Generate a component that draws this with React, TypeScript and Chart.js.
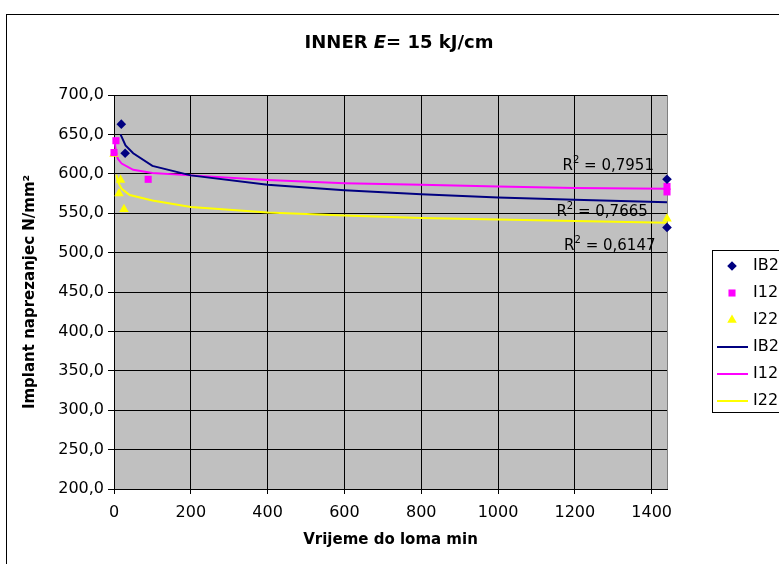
import React, { useEffect, useRef } from "react";
import { Chart, registerables } from "chart.js";

Chart.register(...registerables);

const FONT = "'DejaVu Sans', 'Liberation Sans', Arial, sans-serif";

// Measured points
const ib2X = [19, 29, 1440, 1440];
const ib2Y = [663, 626, 593, 532];
const i12X = [0, 5, 89, 1440, 1440];
const i12Y = [627, 642, 593, 584, 577];
const i22X = [0, 13, 17, 26, 1440];
const i22Y = [625, 575, 592, 555, 543];

// Trend lines
const ib2TrendX = [17, 30, 50, 100, 200, 400, 600, 800, 1000, 1200, 1440];
const ib2TrendY = [650, 636, 626, 610, 598, 586, 579, 574, 570, 567, 564];
const i12TrendX = [2, 5, 10, 20, 50, 100, 200, 400, 600, 800, 1000, 1200, 1440];
const i12TrendY = [640, 628, 619, 613, 605, 601, 598, 592, 588, 586, 584, 582, 581];
const i22TrendX = [6, 10, 20, 41, 100, 200, 400, 600, 800, 1000, 1200, 1440];
const i22TrendY = [599, 590, 581, 573, 566, 558, 551, 547, 544, 542, 540, 538];

const xTickValues = [0, 200, 400, 600, 800, 1000, 1200, 1400];
const yTickValues = [200, 250, 300, 350, 400, 450, 500, 550, 600, 650, 700];

const seriesNames = ["IB2", "I12", "I22"];
const seriesColors = ["#000080", "#FF00FF", "#FFFF00"];
const pointStyles = ["rectRot", "rect", "triangle"];
const pointRadii = [4.8, 5, 5.5];

// R² labels: value, anchor (right edge) in data units
const r2Values = ["0,7951", "0,7665", "0,6147"];
const r2X = [1406, 1390, 1410];
const r2Y = [610, 551, 508];

const titleParts = ["INNER ", "E", "= 15 kJ/cm"];
const xTitle = "Vrijeme do loma min";
const yTitle = "Implant naprezanjec N/mm²";

const zip = (xs: number[], ys: number[]) => xs.map((x, i) => ({ x, y: ys[i] }));

function drawMarker(ctx: CanvasRenderingContext2D, style: string, x: number, y: number, r: number) {
  ctx.beginPath();
  if (style === "rectRot") {
    ctx.moveTo(x, y - r);
    ctx.lineTo(x + r, y);
    ctx.lineTo(x, y + r);
    ctx.lineTo(x - r, y);
  } else if (style === "rect") {
    const s = r * Math.SQRT1_2;
    ctx.rect(x - s, y - s, 2 * s, 2 * s);
  } else {
    const h = r * 1.5;
    const w = r * Math.sqrt(3) / 2;
    ctx.moveTo(x, y - r);
    ctx.lineTo(x + w, y - r + h);
    ctx.lineTo(x - w, y - r + h);
  }
  ctx.closePath();
  ctx.fill();
}

const decorPlugin = {
  id: "decor",
  beforeDraw(chart: any) {
    const { ctx, chartArea: a } = chart;
    ctx.save();
    ctx.fillStyle = "#ffffff";
    ctx.fillRect(0, 0, chart.width, chart.height);
    ctx.fillStyle = "#C0C0C0";
    ctx.fillRect(a.left, a.top, a.right - a.left, a.bottom - a.top);
    ctx.strokeStyle = "#808080";
    ctx.lineWidth = 1;
    ctx.strokeRect(a.left + 0.5, a.top + 0.5, a.right - a.left, a.bottom - a.top);
    ctx.restore();
  },
  afterDraw(chart: any) {
    const { ctx } = chart;
    ctx.save();
    // outer frame
    ctx.strokeStyle = "#000";
    ctx.lineWidth = 1;
    ctx.strokeRect(6.5, 14.5, 900, 700);

    // title
    ctx.fillStyle = "#000";
    ctx.textBaseline = "alphabetic";
    const fonts = [`bold 18px ${FONT}`, `italic bold 18px ${FONT}`, `bold 18px ${FONT}`];
    let total = 0;
    const widths = titleParts.map((t, i) => {
      ctx.font = fonts[i];
      const w = ctx.measureText(t).width;
      total += w;
      return w;
    });
    let tx = 399 - total / 2;
    titleParts.forEach((t, i) => {
      ctx.font = fonts[i];
      ctx.fillText(t, tx, 48);
      tx += widths[i];
    });

    // R² labels
    const xs = chart.scales.x;
    const ys = chart.scales.y;
    r2Values.forEach((v, i) => {
      const right = xs.getPixelForValue(r2X[i]);
      const cy = ys.getPixelForValue(r2Y[i]);
      ctx.font = `15px ${FONT}`;
      const rest = " = " + v;
      const wRest = ctx.measureText(rest).width;
      const wR = ctx.measureText("R").width;
      ctx.font = `10px ${FONT}`;
      const w2 = ctx.measureText("2").width;
      const x0 = right - wRest - w2 - wR;
      ctx.textBaseline = "middle";
      ctx.font = `15px ${FONT}`;
      ctx.fillText("R", x0, cy);
      ctx.font = `10px ${FONT}`;
      ctx.fillText("2", x0 + wR, cy - 6);
      ctx.font = `15px ${FONT}`;
      ctx.fillText(rest, x0 + wR + w2, cy);
    });

    // legend
    const lx = 712, ly = 250;
    ctx.fillStyle = "#fff";
    ctx.fillRect(lx, ly, 100, 162);
    ctx.strokeStyle = "#000";
    ctx.lineWidth = 1;
    ctx.strokeRect(lx + 0.5, ly + 0.5, 100, 162);
    chart.data.datasets.forEach((ds: any, i: number) => {
      const cy = ly + 16 + i * 27;
      const k = i % 3;
      if (ds.showLine) {
        ctx.strokeStyle = seriesColors[k];
        ctx.lineWidth = 2;
        ctx.beginPath();
        ctx.moveTo(lx + 5, cy);
        ctx.lineTo(lx + 36, cy);
        ctx.stroke();
      } else {
        ctx.fillStyle = seriesColors[k];
        drawMarker(ctx, pointStyles[k], lx + 20, cy, pointRadii[k]);
      }
      ctx.fillStyle = "#000";
      ctx.font = `16px ${FONT}`;
      ctx.textBaseline = "middle";
      ctx.fillText(ds.label, lx + 41, cy);
    });
    ctx.restore();
  },
};

export default function App() {
  const ref = useRef<HTMLCanvasElement | null>(null);
  useEffect(() => {
    if (!ref.current) return;
    const pointsDs = [zip(ib2X, ib2Y), zip(i12X, i12Y), zip(i22X, i22Y)].map((d, k) => ({
      label: seriesNames[k],
      data: d,
      showLine: false,
      pointStyle: pointStyles[k],
      pointRadius: pointRadii[k],
      pointBackgroundColor: seriesColors[k],
      pointBorderColor: seriesColors[k],
      pointBorderWidth: 0,
      backgroundColor: seriesColors[k],
      borderColor: seriesColors[k],
      clip: false as any,
      order: 0,
    }));
    const linesDs = [
      zip(ib2TrendX, ib2TrendY),
      zip(i12TrendX, i12TrendY),
      zip(i22TrendX, i22TrendY),
    ].map((d, k) => ({
      label: seriesNames[k],
      data: d,
      showLine: true,
      pointRadius: 0,
      borderColor: seriesColors[k],
      backgroundColor: seriesColors[k],
      borderWidth: 2,
      tension: 0,
      fill: false,
      order: 1,
    }));
    const chart = new Chart(ref.current, {
      type: "scatter",
      data: { datasets: [...pointsDs, ...linesDs] as any },
      options: {
        responsive: false,
        animation: false,
        layout: { padding: { left: 18, right: 112, top: 95, bottom: 15 } },
        plugins: { legend: { display: false }, tooltip: { enabled: false }, title: { display: false } },
        scales: {
          x: {
            type: "linear",
            min: 0,
            max: 1440,
            afterBuildTicks: (s: any) => {
              s.ticks = xTickValues.map((v) => ({ value: v }));
            },
            ticks: {
              autoSkip: false,
              maxRotation: 0,
              padding: 9,
              color: "#000",
              font: { family: FONT, size: 16 },
              callback: (v: any) => String(v),
            },
            grid: { color: "#000", tickColor: "#000", tickLength: 5, lineWidth: 1 },
            border: { color: "#000" },
            title: {
              display: true,
              text: xTitle,
              color: "#000",
              font: { family: FONT, size: 15, weight: "bold" },
              padding: 0,
            },
            afterFit: (s: any) => {
              s.height = 60;
            },
          },
          y: {
            type: "linear",
            min: 200,
            max: 700,
            afterBuildTicks: (s: any) => {
              s.ticks = yTickValues.map((v) => ({ value: v }));
            },
            ticks: {
              autoSkip: false,
              padding: 4,
              color: "#000",
              font: { family: FONT, size: 16 },
              callback: (v: any) => Number(v).toFixed(1).replace(".", ","),
            },
            grid: { color: "#000", tickColor: "#000", tickLength: 6, lineWidth: 1 },
            border: { color: "#000" },
            title: {
              display: true,
              text: yTitle,
              color: "#000",
              font: { family: FONT, size: 15, weight: "bold" },
              padding: { top: 3, bottom: 0 },
            },
            afterFit: (s: any) => {
              s.width = 96;
            },
          },
        },
      } as any,
      plugins: [decorPlugin],
    });
    return () => chart.destroy();
  }, []);
  return (
    <div style={{ position: "fixed", left: 0, top: 0, width: 779, height: 564, background: "#fff" }}>
      <canvas ref={ref} width={779} height={564} style={{ display: "block" }} />
    </div>
  );
}
